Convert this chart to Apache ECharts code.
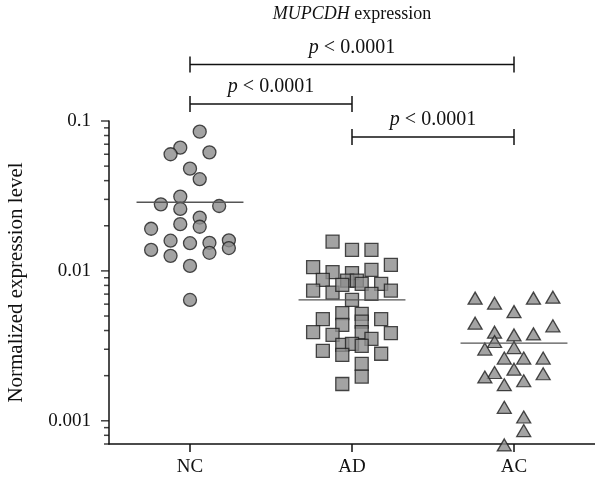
<!DOCTYPE html>
<html>
<head>
<meta charset="utf-8">
<script src="https://cdn.jsdelivr.net/npm/echarts@6/dist/echarts.min.js"></script>
<style>
  html, body { margin: 0; padding: 0; background: #fff; }
  #chart { width: 595px; height: 479px; }
</style>
</head>
<body>
<div id="chart"></div>
<script>
// ---------- data ----------
const categories = ['NC', 'AD', 'AC'];
const yTickLabels = ['0.001', '0.01', '0.1'];
const majorTicks = [0.001, 0.01, 0.1];
const minorTicks = [0.0007, 0.0008, 0.0009,
  0.002, 0.003, 0.004, 0.005, 0.006, 0.007, 0.008, 0.009,
  0.02, 0.03, 0.04, 0.05, 0.06, 0.07, 0.08, 0.09];

// jitter in steps, values in normalized expression level
const ncJitter = [1, -1, -2, 2, 0, 1, -1, -3, 3, -1, 1, -1, 1, -4, -2, 0, 2, 4, -4, -2, 2, 4, 0, 0];
const ncValues = [0.0849, 0.0664, 0.0600, 0.0618, 0.0481, 0.0409, 0.0313, 0.0278, 0.0271, 0.0259, 0.0227, 0.0205,
  0.0197, 0.0191, 0.0159, 0.0153, 0.0154, 0.0160, 0.0138, 0.0126, 0.0132, 0.0142, 0.0108, 0.0064];

const adJitter = [-2, 0, 2, 4, -4, -2, 0, 2, -3, -0.5, 0.5, 3, -4, -2, -1, 1, 2, 4, 0, -1, 1, -3, 3, -1, 1,
  -4, 1, 4, -2, 2, -1, 0, 1, -3, -1, 3, 1, 1, -1];
const adValues = [0.01568, 0.0138, 0.0138, 0.01096, 0.01058, 0.0098, 0.00965, 0.01015, 0.00871, 0.00861,
  0.00861, 0.00819, 0.00739, 0.00717, 0.00806, 0.00819, 0.00703, 0.00739, 0.0064, 0.00522,
  0.00517, 0.00476, 0.00476, 0.00437, 0.00459, 0.0039, 0.0039, 0.00384, 0.00374, 0.00352,
  0.00321, 0.00326, 0.00316, 0.00293, 0.00275, 0.0028, 0.0024, 0.00197, 0.00176];

const acJitter = [-4, -2, 2, 4, 0, -4, 4, -2, 0, 2, -2, 0, -3, -1, 1, 3, 0, -2, -3, 3, -1, 1, -1, 1, 1, -1];
const acValues = [0.00658, 0.00609, 0.00658, 0.00668, 0.00535, 0.00448, 0.0043, 0.0039, 0.00374, 0.0038,
  0.00338, 0.00308, 0.00301, 0.00262, 0.00262, 0.00262, 0.00221, 0.0021, 0.00196, 0.00206,
  0.00174, 0.00185, 0.00123, 0.00106, 0.00086, 0.00069];

const medians = [0.0287, 0.0064, 0.0033];

const bracketPairs = [['NC', 'AC'], ['NC', 'AD'], ['AD', 'AC']];
const bracketLabels = ['p < 0.0001', 'p < 0.0001', 'p < 0.0001'];

// ---------- style ----------
const SERIF = '"Liberation Serif", "Times New Roman", serif';
const JITTER = 0.06;
const HALF_MEDIAN = 0.33;
const FILL = '#8c8c8c';
const EDGE = '#1e1e1e';
const INK = '#111';

function groupData(idx, jit, vals) {
  return vals.map((v, i) => [idx + 1 + jit[i] * JITTER, v]);
}

const chart = echarts.init(document.getElementById('chart'), null, { renderer: 'canvas' });

const pointStyle = { color: FILL, borderColor: EDGE, borderWidth: 1.3 };

const series = [
  { type: 'scatter', xAxisIndex: 1, symbol: 'circle', symbolSize: 13, itemStyle: pointStyle,
    data: groupData(0, ncJitter, ncValues), clip: false, silent: true },
  { type: 'scatter', xAxisIndex: 1, symbol: 'rect', symbolSize: 13, itemStyle: pointStyle,
    data: groupData(1, adJitter, adValues), clip: false, silent: true },
  { type: 'scatter', xAxisIndex: 1, symbol: 'triangle', symbolSize: [14, 12], itemStyle: pointStyle,
    data: groupData(2, acJitter, acValues), clip: false, silent: true }
];
medians.forEach((m, i) => {
  series.push({
    type: 'line', xAxisIndex: 1, symbol: 'none', silent: true, z: 5,
    lineStyle: { color: '#555', width: 1.3 },
    data: [[i + 1 - HALF_MEDIAN, m], [i + 1 + HALF_MEDIAN, m]]
  });
});
// y axis ticks drawn at axis scale positions
series.push({
  type: 'scatter', xAxisIndex: 1, symbol: 'rect', symbolSize: [8, 1.5], symbolOffset: [-4, 0],
  itemStyle: { color: INK }, silent: true, clip: false, z: 6,
  data: majorTicks.map(v => [0.5, v])
});
series.push({
  type: 'scatter', xAxisIndex: 1, symbol: 'rect', symbolSize: [5, 1.5], symbolOffset: [-2.5, 0],
  itemStyle: { color: INK }, silent: true, clip: false, z: 6,
  data: minorTicks.map(v => [0.5, v])
});

const option = {
  animation: false,
  backgroundColor: '#fff',
  grid: { left: 109, right: 0, top: 121, bottom: 35, containLabel: false, outerBoundsMode: 'none' },
  xAxis: [
    {
      type: 'category', data: categories, boundaryGap: true,
      axisLine: { show: true, lineStyle: { color: INK, width: 1.5 } },
      axisTick: { show: true, alignWithLabel: true, length: 8, lineStyle: { color: INK, width: 1.5 } },
      axisLabel: { color: INK, fontFamily: SERIF, fontSize: 19, margin: 14 },
      splitLine: { show: false }
    },
    { type: 'value', min: 0.5, max: 3.5, show: false }
  ],
  yAxis: {
    type: 'log', logBase: 10, min: 0.0007, max: 0.1,
    name: 'Normalized expression level', nameLocation: 'middle', nameGap: 82,
    nameTextStyle: { color: INK, fontFamily: SERIF, fontSize: 21 },
    axisLine: { show: true, lineStyle: { color: INK, width: 1.5 } },
    axisTick: { show: false },
    splitLine: { show: false },
    axisLabel: {
      color: INK, fontFamily: SERIF, fontSize: 19, margin: 18,
      formatter: function (v) {
        for (let i = 0; i < majorTicks.length; i++) {
          if (Math.abs(v - majorTicks[i]) / majorTicks[i] < 1e-6) return yTickLabels[i];
        }
        return '';
      }
    }
  },
  series: series
};
chart.setOption(option);

// ---------- annotations ----------
const bracketY = [64.5, 104, 137];
const graphics = [];
const px = c => chart.convertToPixel({ xAxisIndex: 0 }, c);
bracketPairs.forEach((pair, i) => {
  const x1 = px(pair[0]), x2 = px(pair[1]), y = bracketY[i];
  const ls = { stroke: INK, lineWidth: 1.5 };
  graphics.push({ type: 'line', shape: { x1: x1, y1: y, x2: x2, y2: y }, style: ls, silent: true });
  graphics.push({ type: 'line', shape: { x1: x1, y1: y - 8, x2: x1, y2: y + 8 }, style: ls, silent: true });
  graphics.push({ type: 'line', shape: { x1: x2, y1: y - 8, x2: x2, y2: y + 8 }, style: ls, silent: true });
  const lbl = bracketLabels[i];
  graphics.push({
    type: 'text', x: (x1 + x2) / 2, y: y - 17, silent: true,
    style: {
      text: '{i|' + lbl.charAt(0) + '}' + lbl.slice(1),
      align: 'center', verticalAlign: 'middle',
      fill: INK, font: '20px ' + SERIF,
      rich: { i: { fontStyle: 'italic', fontSize: 20, fontFamily: SERIF, fill: INK } }
    }
  });
});
const gx = (px('NC') + px('AC')) / 2;
graphics.push({
  type: 'text', x: gx, y: 14, silent: true,
  style: {
    text: '{i|MUPCDH} expression', align: 'center', verticalAlign: 'middle',
    fill: INK, font: '18px ' + SERIF,
    rich: { i: { fontStyle: 'italic', fontSize: 18, fontFamily: SERIF, fill: INK } }
  }
});
chart.setOption({ graphic: graphics });
</script>
</body>
</html>
